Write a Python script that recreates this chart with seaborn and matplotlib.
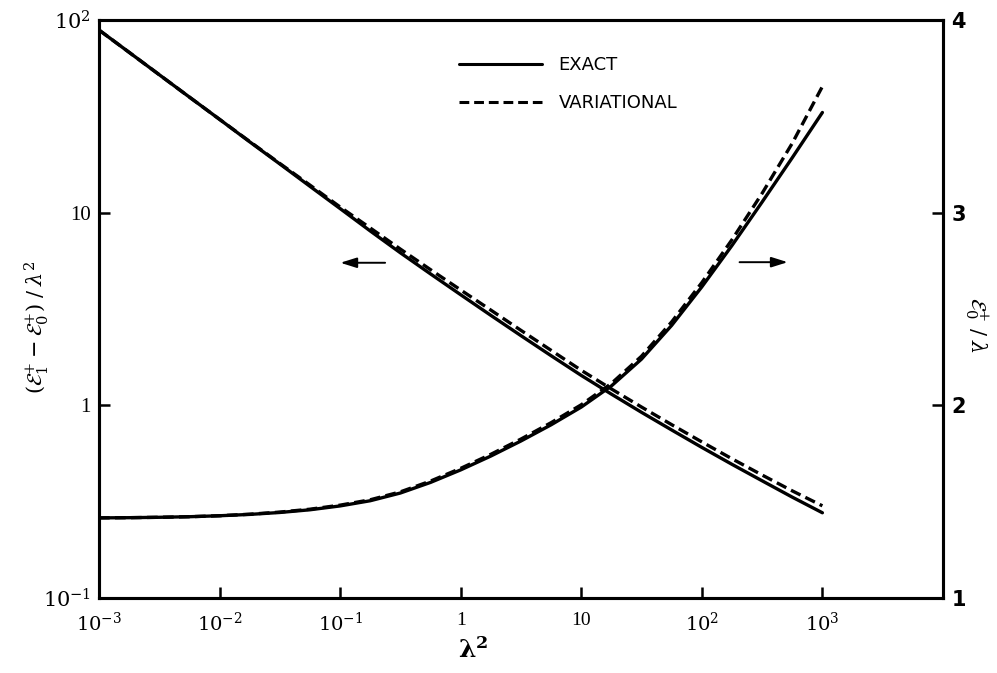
import matplotlib
matplotlib.use("Agg")
import matplotlib.pyplot as plt
from matplotlib.lines import Line2D
from matplotlib.ticker import FixedLocator, FixedFormatter, NullLocator
import pandas as pd
import seaborn as sns

# coupling strength lambda^2 (quarter-decade grid)
lam2 = [0.001, 0.00178, 0.00316, 0.00562, 0.01, 0.0178, 0.0316, 0.0562,
        0.1, 0.178, 0.316, 0.562, 1.0, 1.78, 3.16, 5.62,
        10.0, 17.8, 31.6, 56.2, 100.0, 178.0, 316.0, 562.0, 1000.0]

# (E1+ - E0+) / lambda^2, left axis
gap_exact = [88.7, 67.9, 52.0, 39.8, 30.5, 23.3, 17.9, 13.7,
             10.5, 8.03, 6.19, 4.81, 3.75, 2.93, 2.30, 1.81,
             1.43, 1.143, 0.920, 0.745, 0.605, 0.494, 0.406, 0.334, 0.277]
gap_var = [88.7, 67.9, 52.0, 39.8, 30.5, 23.4, 18.0, 13.9,
           10.7, 8.32, 6.47, 5.06, 3.97, 3.12, 2.45, 1.93,
           1.52, 1.216, 0.980, 0.794, 0.646, 0.528, 0.435, 0.360, 0.301]

# E0+ / lambda, right axis
ground_exact = [1.416, 1.417, 1.419, 1.422, 1.427, 1.434, 1.444, 1.458,
                1.478, 1.505, 1.545, 1.600, 1.665, 1.737, 1.815, 1.899,
                1.991, 2.101, 2.240, 2.415, 2.615, 2.830, 3.055, 3.285, 3.520]
ground_var = [1.416, 1.417, 1.419, 1.422, 1.427, 1.435, 1.446, 1.461,
              1.482, 1.510, 1.551, 1.607, 1.673, 1.746, 1.825, 1.910,
              2.003, 2.114, 2.255, 2.433, 2.637, 2.860, 3.100, 3.360, 3.655]

methods = ["EXACT", "VARIATIONAL"]

x_ticks = [1e-3, 1e-2, 1e-1, 1, 10, 1e2, 1e3]
x_tick_labels = [r"$10^{-3}$", r"$10^{-2}$", r"$10^{-1}$", "1", "10", r"$10^{2}$", r"$10^{3}$"]
left_ticks = [0.1, 1, 10, 100]
left_tick_labels = [r"$10^{-1}$", "1", "10", r"$10^{2}$"]
right_ticks = [1, 2, 3, 4]
right_tick_labels = ["1", "2", "3", "4"]

sns.set_theme(style="white")
plt.rcParams["font.family"] = ["DejaVu Sans"]
plt.rcParams["mathtext.fontset"] = "dejavuserif"
plt.rcParams["text.color"] = "black"
plt.rcParams["axes.labelcolor"] = "black"

n = len(lam2)
gap_df = pd.DataFrame({"lam2": lam2 * 2,
                       "value": gap_exact + gap_var,
                       "method": [methods[0]] * n + [methods[1]] * n})
ground_df = pd.DataFrame({"lam2": lam2 * 2,
                          "value": ground_exact + ground_var,
                          "method": [methods[0]] * n + [methods[1]] * n})

dash_map = {methods[0]: "", methods[1]: (3.2, 1.6)}

fig = plt.figure(figsize=(9.97, 6.73), dpi=100)
ax = fig.add_axes([0.0993, 0.1114, 0.8465, 0.8589])
ax.set_xscale("log")
ax.set_yscale("log")
ax2 = ax.twinx()
ax2.set_xscale("log")

sns.lineplot(data=gap_df, x="lam2", y="value", style="method", dashes=dash_map,
             color="black", linewidth=2.4, estimator=None, sort=False,
             legend=False, ax=ax)
sns.lineplot(data=ground_df, x="lam2", y="value", style="method", dashes=dash_map,
             color="black", linewidth=2.4, estimator=None, sort=False,
             legend=False, ax=ax2)

ax.set_xlim(1e-3, 1e4)
ax.set_ylim(0.1, 100)
ax2.set_ylim(1, 4)

for spine in list(ax.spines.values()) + list(ax2.spines.values()):
    spine.set_color("black")
    spine.set_linewidth(2.2)

serif = ["Liberation Serif", "DejaVu Serif"]

ax.xaxis.set_major_locator(FixedLocator(x_ticks))
ax.xaxis.set_major_formatter(FixedFormatter(x_tick_labels))
ax.xaxis.set_minor_locator(NullLocator())
ax.yaxis.set_major_locator(FixedLocator(left_ticks))
ax.yaxis.set_major_formatter(FixedFormatter(left_tick_labels))
ax.yaxis.set_minor_locator(NullLocator())
ax2.yaxis.set_major_locator(FixedLocator(right_ticks))
ax2.yaxis.set_major_formatter(FixedFormatter(right_tick_labels))
ax2.yaxis.set_minor_locator(NullLocator())

ax.tick_params(axis="x", which="major", direction="in", length=8, width=1.8,
               bottom=True, top=False, pad=10, labelsize=14, colors="black")
ax.tick_params(axis="y", which="major", direction="in", length=8, width=1.8,
               left=True, right=False, pad=6, labelsize=15, colors="black")
ax2.tick_params(axis="y", which="major", direction="in", length=8, width=1.8,
                right=True, left=False, pad=6, labelsize=15, colors="black")
for lab in ax.get_xticklabels() + ax.get_yticklabels():
    lab.set_family(serif)
for lab in ax2.get_yticklabels():
    lab.set_fontweight("bold")

ax.set_xlabel("")
ax.set_ylabel("")
ax2.set_ylabel("")
ax.grid(False)
ax2.grid(False)

# axis titles
fig.text(473 / 997, 1 - 650 / 673, r"$\mathbf{\lambda^2}$", fontsize=18,
         ha="center", va="center")
fig.text(37 / 997, 1 - 327 / 673,
         r"$(\mathcal{E}_1^{+}-\mathcal{E}_0^{+})\;/\;\lambda^2$",
         fontsize=15, rotation=90, ha="center", va="center")
fig.text(976 / 997, 1 - 325 / 673, r"$\mathcal{E}_0^{+}\;/\;\lambda$",
         fontsize=15, rotation=-90, ha="center", va="center")

# arrows pointing to the axis each curve belongs to
arrow_kw = dict(arrowstyle="-|>,head_length=0.7,head_width=0.22", color="black",
                lw=1.4, shrinkA=0, shrinkB=0, mutation_scale=14)
ax.annotate("", xy=(0.286, 0.580), xytext=(0.339, 0.580),
            xycoords="axes fraction", textcoords="axes fraction",
            arrowprops=arrow_kw)
ax.annotate("", xy=(0.816, 0.581), xytext=(0.759, 0.581),
            xycoords="axes fraction", textcoords="axes fraction",
            arrowprops=arrow_kw)

handles = [Line2D([], [], color="black", lw=2.2),
           Line2D([], [], color="black", lw=2.2, dashes=(3.2, 1.6))]
leg = ax.legend(handles, methods, loc="upper left", bbox_to_anchor=(0.427, 0.937),
                frameon=False, borderpad=0, borderaxespad=0, handlelength=4.6,
                handletextpad=0.9, labelspacing=1.08,
                prop={"family": ["DejaVu Sans"], "size": 13})
for t in leg.get_texts():
    t.set_color("black")

fig.savefig("out.png", dpi=100)
